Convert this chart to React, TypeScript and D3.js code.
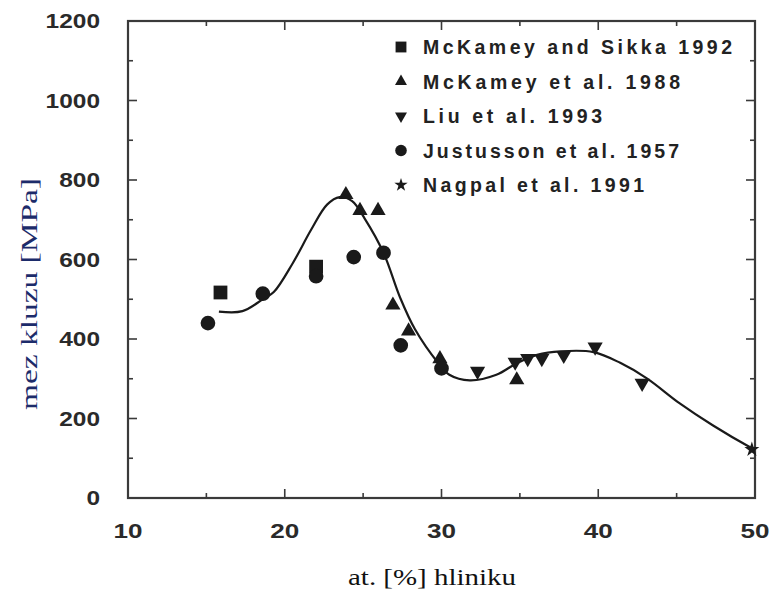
import React from "react";
import * as d3 from "d3";

const xTicks = [10, 20, 30, 40, 50];
const yTicks = [0, 200, 400, 600, 800, 1000, 1200];

const mcKameySikka: [number, number][] = [
  [15.9, 517],
  [22, 582],
];
const mcKamey1988: [number, number][] = [
  [23.9, 763],
  [24.8, 723],
  [25.95, 723],
  [26.9, 485],
  [27.9, 420],
  [29.9, 350],
  [34.8, 297],
];
const liu1993: [number, number][] = [
  [32.3, 319],
  [34.7, 342],
  [35.5, 351],
  [36.4, 351],
  [37.8, 359],
  [39.8, 380],
  [42.8, 289],
];
const justusson1957: [number, number][] = [
  [15.1, 440],
  [18.6, 514],
  [22, 558],
  [24.4, 606],
  [26.3, 617],
  [27.4, 384],
  [30, 326],
];
const nagpal1991: [number, number][] = [[49.8, 122]];

const fitCurve: [number, number][] = [
  [15.8, 469], [17.3, 470], [18.6, 500], [19.3, 518], [20.5, 590], [21.7, 676],
  [22.7, 738], [23.5, 757], [24.3, 747], [25.1, 703], [26.3, 617], [27.35, 505],
  [28.3, 425], [29.8, 339], [30.5, 310], [31.8, 296], [33.5, 310], [34.8, 339],
  [36.1, 360], [37.6, 369], [39.7, 367], [41.4, 340], [43.1, 301], [45.2, 238],
  [47.3, 183], [49.8, 125], [50, 121],
];

const legendLabels = [
  "McKamey and Sikka 1992",
  "McKamey et al. 1988",
  "Liu et al. 1993",
  "Justusson et al. 1957",
  "Nagpal et al. 1991",
];
const legendWidths = [309, 257, 179, 256, 221];

const X0 = 128, X1 = 755, Y0 = 498, Y1 = 21;
const x = d3.scaleLinear().domain([10, 50]).range([X0, X1]);
const y = d3.scaleLinear().domain([0, 1200]).range([Y0, Y1]);

type Kind = "square" | "up" | "down" | "circle" | "star";
const sym = (k: Kind, big: boolean) => {
  const s = big ? 1 : 0.62;
  switch (k) {
    case "square": return d3.symbol(d3.symbolSquare, 190 * s)();
    case "up": return d3.symbol(d3.symbolTriangle, 100 * s)();
    case "down": return d3.symbol(d3.symbolTriangle, 100 * s)();
    case "circle": return d3.symbol(d3.symbolCircle, 170 * s)();
    case "star": return d3.symbol(d3.symbolStar, big ? 70 : 55)();
  }
};

const series: { kind: Kind; data: [number, number][] }[] = [
  { kind: "square", data: mcKameySikka },
  { kind: "up", data: mcKamey1988 },
  { kind: "down", data: liu1993 },
  { kind: "circle", data: justusson1957 },
  { kind: "star", data: nagpal1991 },
];

export default function App() {
  const line = d3
    .line<[number, number]>()
    .x((d) => x(d[0]))
    .y((d) => y(d[1]))
    .curve(d3.curveCatmullRom.alpha(0.5));

  const xMinor = d3.range(10, 50.01, 5);
  const yMinor = d3.range(0, 1200.01, 100);
  const ink = "#1a1a1a";
  const frame = "#3a3a3a";

  return (
    <svg
      width={770}
      height={597}
      style={{ position: "absolute", left: 0, top: 0, background: "#fff" }}
    >
      <rect x={0} y={0} width={770} height={597} fill="#fff" />
      {/* ticks */}
      <g stroke={frame} strokeWidth={1.6}>
        {xMinor.map((v) => {
          const len = v % 10 === 0 ? 9 : 5;
          return (
            <g key={"xt" + v}>
              <line x1={x(v)} x2={x(v)} y1={Y0} y2={Y0 - len} />
              <line x1={x(v)} x2={x(v)} y1={Y1} y2={Y1 + len} />
            </g>
          );
        })}
        {yMinor.map((v) => {
          const len = v % 200 === 0 ? 9 : 5;
          return (
            <g key={"yt" + v}>
              <line x1={X0} x2={X0 + len} y1={y(v)} y2={y(v)} />
              <line x1={X1} x2={X1 - len} y1={y(v)} y2={y(v)} />
            </g>
          );
        })}
      </g>
      <rect
        x={X0}
        y={Y1}
        width={X1 - X0}
        height={Y0 - Y1}
        fill="none"
        stroke={frame}
        strokeWidth={2.2}
      />
      {/* tick labels */}
      <g fontFamily="Liberation Sans, Arial, sans-serif" fontWeight="bold" fill="#2a2a2a">
        {yTicks.map((v) => {
          const t = String(v);
          return (
            <text
              key={"yl" + v}
              x={100}
              y={y(v)}
              textAnchor="end"
              dominantBaseline="central"
              fontSize={20}
              textLength={t.length * 13.6}
              lengthAdjust="spacingAndGlyphs"
            >
              {t}
            </text>
          );
        })}
        {xTicks.map((v) => {
          const t = String(v);
          return (
            <text
              key={"xl" + v}
              x={x(v)}
              y={531}
              textAnchor="middle"
              dominantBaseline="central"
              fontSize={20}
              textLength={t.length * 14.5}
              lengthAdjust="spacingAndGlyphs"
            >
              {t}
            </text>
          );
        })}
      </g>
      {/* axis titles */}
      <text
        x={432}
        y={585}
        textAnchor="middle"
        fontFamily="Liberation Serif, Times New Roman, serif"
        fontSize={24}
        fill="#111"
        textLength={168}
        lengthAdjust="spacingAndGlyphs"
      >
        at. [%] hliniku
      </text>
      <text
        transform="translate(37,294) rotate(-90)"
        textAnchor="middle"
        fontFamily="Liberation Serif, Times New Roman, serif"
        fontSize={24}
        fill="#1c2b6a"
        textLength={232}
        lengthAdjust="spacingAndGlyphs"
      >
        mez kluzu [MPa]
      </text>
      {/* fit curve */}
      <path d={line(fitCurve) || ""} fill="none" stroke={ink} strokeWidth={2.2} />
      {/* data points */}
      {series.map((s) =>
        s.data.map((d, i) => (
          <path
            key={s.kind + i}
            d={sym(s.kind, true) || ""}
            transform={`translate(${x(d[0])},${y(d[1])})${s.kind === "down" ? " rotate(180)" : ""}`}
            fill={ink}
          />
        ))
      )}
      {/* legend */}
      {series.map((s, i) => {
        const ly = 47 + i * 34.5;
        return (
          <g key={"lg" + i}>
            <path
              d={sym(s.kind, false) || ""}
              transform={`translate(401,${ly})${s.kind === "down" ? " rotate(180)" : ""}`}
              fill={ink}
            />
            <text
              x={423}
              y={ly}
              dominantBaseline="central"
              fontFamily="Liberation Sans, Arial, sans-serif"
              fontWeight="bold"
              fontSize={19.5}
              fill="#222"
              textLength={legendWidths[i]}
              lengthAdjust="spacing"
            >
              {legendLabels[i]}
            </text>
          </g>
        );
      })}
    </svg>
  );
}
